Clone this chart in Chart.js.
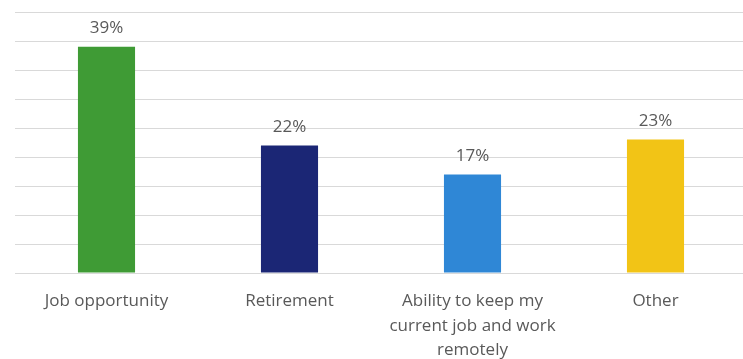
<!DOCTYPE html>
<html>
<head>
<meta charset="utf-8">
<script src="https://cdn.jsdelivr.net/npm/chart.js@4/dist/chart.umd.min.js"></script>
<style>
  html, body { margin: 0; padding: 0; background: #ffffff; overflow: hidden; }
  #wrap { width: 743px; height: 359px; overflow: hidden; }
  canvas { display: block; }
</style>
</head>
<body>
<div id="wrap"><canvas id="chart" width="747" height="359"></canvas></div>
<script>
// Reasons given, with the share of respondents for each
const categories = [
  ['Job opportunity'],
  ['Retirement'],
  ['Ability to keep my', 'current job and work', 'remotely'],
  ['Other']
];
const shares = [39, 22, 17, 23];
const barColors = ['#3f9b35', '#1b2675', '#2f87d6', '#f2c416'];
const axisMin = 0;
const axisMax = 45;
const axisStep = 5;

const textColor = '#595959';
const fontFamily = '"Open Sans", "Noto Sans", sans-serif';

// Writes the percentage above each bar
const valueLabels = {
  id: 'valueLabels',
  afterDatasetsDraw(chart) {
    const ctx = chart.ctx;
    const meta = chart.getDatasetMeta(0);
    ctx.save();
    ctx.fillStyle = textColor;
    ctx.font = '17px ' + fontFamily;
    ctx.textAlign = 'center';
    ctx.textBaseline = 'alphabetic';
    meta.data.forEach((bar, i) => {
      ctx.fillText(shares[i] + '%', bar.x, bar.y - 13.5);
    });
    ctx.restore();
  }
};

new Chart(document.getElementById('chart'), {
  type: 'bar',
  data: {
    labels: categories,
    datasets: [{
      data: shares,
      backgroundColor: barColors,
      borderWidth: 0,
      categoryPercentage: 1,
      barPercentage: 0.312
    }]
  },
  options: {
    responsive: false,
    animation: false,
    layout: { padding: { left: 15, right: 0, top: 12, bottom: 0 } },
    plugins: {
      legend: { display: false },
      tooltip: { enabled: false }
    },
    scales: {
      x: {
        grid: { display: false },
        border: { display: false },
        ticks: {
          color: textColor,
          padding: 8,
          maxRotation: 0,
          autoSkip: false,
          font: { family: fontFamily, size: 17, lineHeight: 1.44 }
        },
        afterFit(scale) { scale.height = 86; }
      },
      y: {
        min: axisMin,
        max: axisMax,
        border: { display: false },
        grid: { color: '#d9d9d9', lineWidth: 1, drawTicks: false },
        ticks: { display: false, stepSize: axisStep }
      }
    }
  },
  plugins: [valueLabels]
});
</script>
</body>
</html>
